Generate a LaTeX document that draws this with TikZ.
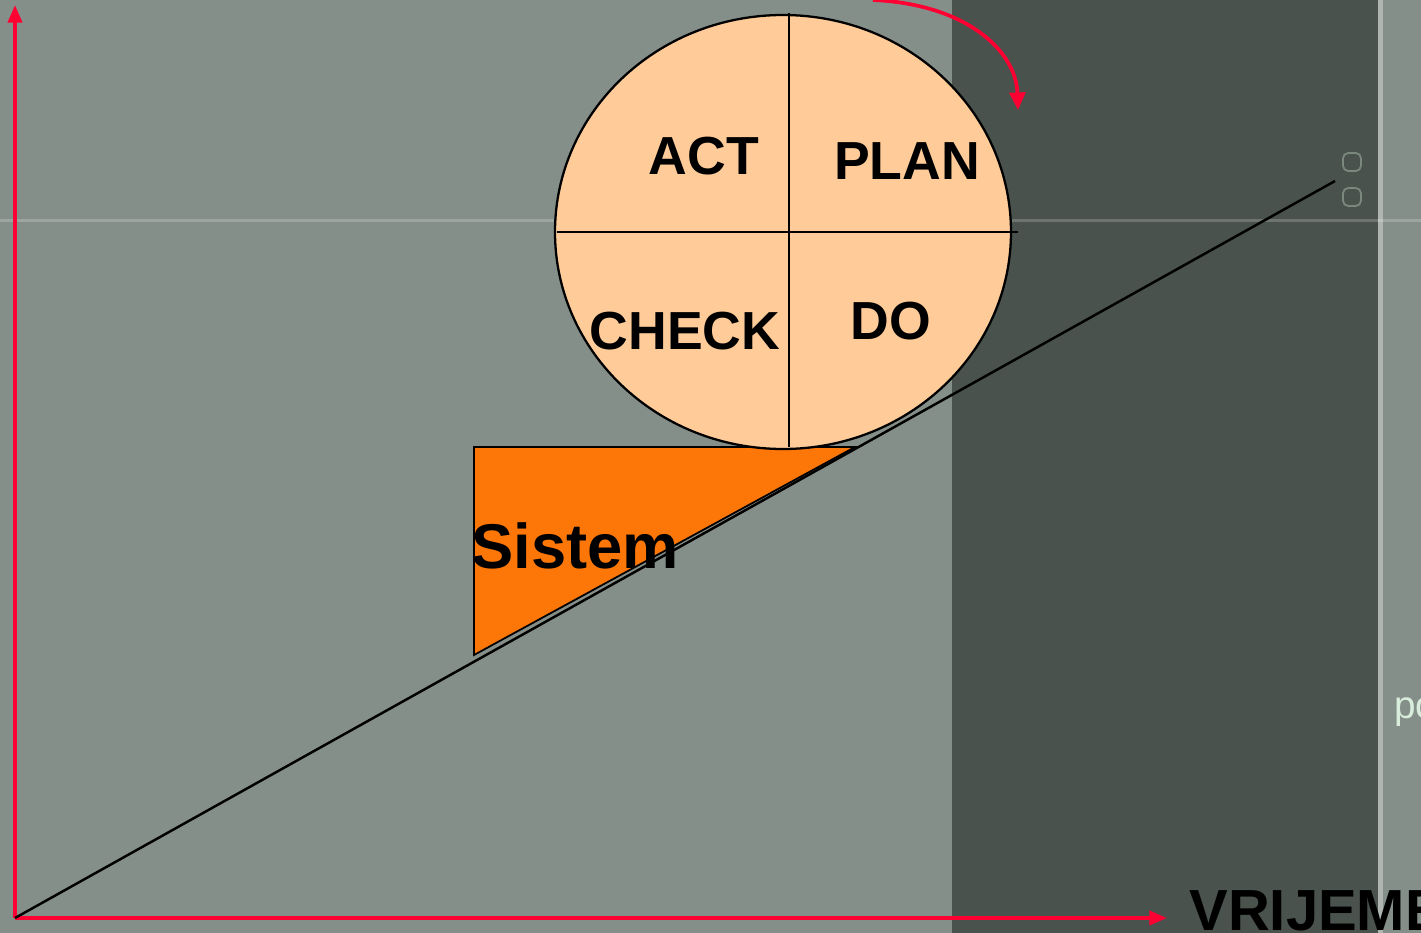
\documentclass[tikz,border=0pt]{standalone}
\usepackage{fontspec}
\setmainfont{Liberation Sans}
\usepackage{tikz}
\usetikzlibrary{arrows.meta}

\definecolor{bggrey}{HTML}{858F89}
\definecolor{panel}{HTML}{4A524D}
\definecolor{peach}{HTML}{FFCC99}
\definecolor{sysorange}{HTML}{FC7608}
\definecolor{axisred}{HTML}{FF0033}
\definecolor{pale}{HTML}{D8EDDC}

\tikzset{
  lbl/.style={font=\bfseries\fontsize{30.5}{30.5}\selectfont, inner sep=0pt},
  axis/.style={draw=axisred, line width=2.1pt, -{Triangle[length=10pt,width=8pt]}},
}

\begin{document}
\begin{tikzpicture}[x=0.02cm,y=-0.02cm]
            \useasboundingbox (0,0) rectangle (1421,933);
            % background
            \fill[bggrey] (0,0) rectangle (1421,933);
            \fill[panel] (952,0) rectangle (1378,933);
            \fill[white,opacity=0.35] (1378,0) rectangle (1383,933);
            \fill[white,opacity=0.2] (0,219) rectangle (1421,222);
            \draw[pale,opacity=0.35,line width=1pt,rounded corners=3pt] (1343,153) rectangle (1361,171);
            \draw[pale,opacity=0.35,line width=1pt,rounded corners=3pt] (1343,188) rectangle (1361,206);
            \node[anchor=base west,inner sep=0pt,text=pale,font=\fontsize{22}{22}\selectfont] at (1394,718) (po) {po};
            % axes
            \coordinate (o) at (15,918);
            \coordinate (ytop) at (15,5);
            \coordinate (xend) at (1167,918);
            \coordinate (lend) at (1335,181);
            \draw[axis] (o) to (ytop);
            \draw[axis] (o) to (xend);
            \draw[line width=1.4pt] (o) to (lend);
            % system
            \draw[fill=sysorange,line width=1pt] (474,447) -- (855,447) -- (474,655) -- cycle;
            \node[font=\bfseries\fontsize{36}{36}\selectfont,inner sep=0pt,anchor=base west] at (471,568) (sistem) {Sistem};
            % PDCA wheel
            \draw[fill=peach,line width=1.3pt] (783,232) ellipse [x radius=228, y radius=217];
            \coordinate (vt) at (789,13);
            \coordinate (vb) at (789,447);
            \coordinate (hl) at (557,232);
            \coordinate (hr) at (1018,232);
            \draw[line width=1.3pt] (vt) to (vb);
            \draw[line width=1.3pt] (hl) to (hr);
            \node[lbl,anchor=base] at (704,174) (act) {ACT};
            \node[lbl,anchor=base] at (907,179) (plan) {PLAN};
            \node[lbl,anchor=base] at (685,349) (check) {CHECK};
            \node[lbl,anchor=base] at (891,339) (do) {DO};
            % rotation
            \coordinate (rs) at (873,0);
            \coordinate (re) at (1018,110);
            \draw[draw=axisred,line width=2.1pt,-{Triangle[length=10pt,width=9pt]}] (rs) .. controls (965,4) and (1016,50) .. (re);
            \node[font=\bfseries\fontsize{33}{33}\selectfont,inner sep=0pt,anchor=base west] at (1189,930) (vrijeme) {VRIJEME};
        \end{tikzpicture}
\end{document}
